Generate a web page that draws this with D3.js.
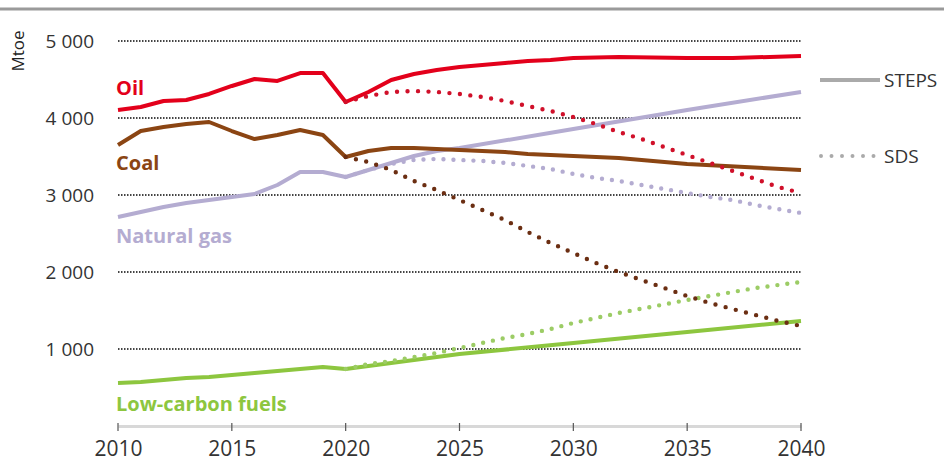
<!DOCTYPE html>
<html>
<head>
<meta charset="utf-8">
<script src="https://cdn.jsdelivr.net/npm/d3@7"></script>
<style>
  html, body { margin: 0; padding: 0; background: #fff; }
  svg { display: block; font-family: "Open Sans", "DejaVu Sans", sans-serif; }
</style>
</head>
<body>
<svg id="chart" width="944" height="461"></svg>
<script>
// ---- Data (Mtoe) ----
const yTicks = [1000, 2000, 3000, 4000, 5000];
const xTicks = [2010, 2015, 2020, 2025, 2030, 2035, 2040];

const oilSteps = [[2010,4104],[2011,4143],[2012,4221],[2013,4234],[2014,4312],[2015,4416],[2016,4506],[2017,4481],[2018,4584],[2019,4584],[2020,4208],[2021,4338],[2022,4494],[2023,4571],[2024,4623],[2025,4662],[2026,4688],[2027,4714],[2028,4740],[2029,4753],[2030,4779],[2032,4792],[2035,4779],[2037,4779],[2040,4805]];
const oilSds = [[2020,4208],[2021,4286],[2022,4338],[2023,4351],[2024,4338],[2025,4312],[2026,4273],[2027,4221],[2028,4156],[2029,4091],[2030,4013],[2031,3922],[2032,3818],[2033,3727],[2034,3623],[2035,3519],[2036,3416],[2037,3312],[2038,3208],[2039,3104],[2040,3026]];

const coalSteps = [[2010,3649],[2011,3831],[2012,3883],[2013,3922],[2014,3948],[2015,3831],[2016,3727],[2017,3779],[2018,3844],[2019,3779],[2020,3494],[2021,3571],[2022,3610],[2023,3610],[2024,3597],[2025,3584],[2026,3571],[2027,3558],[2028,3532],[2029,3519],[2030,3506],[2032,3481],[2035,3403],[2040,3325]];
const coalSds = [[2020,3494],[2021,3429],[2022,3325],[2023,3182],[2024,3065],[2025,2935],[2026,2805],[2027,2675],[2028,2519],[2029,2377],[2030,2247],[2031,2117],[2032,2000],[2033,1896],[2034,1792],[2035,1688],[2036,1597],[2037,1519],[2038,1442],[2039,1364],[2040,1299]];

const gasSteps = [[2010,2714],[2011,2779],[2012,2844],[2013,2896],[2014,2935],[2015,2974],[2016,3013],[2017,3130],[2018,3299],[2019,3299],[2020,3234],[2021,3325],[2022,3416],[2023,3506],[2024,3571],[2025,3610],[2030,3857],[2035,4104],[2040,4338]];
const gasSds = [[2020,3234],[2021,3325],[2022,3403],[2023,3455],[2024,3468],[2025,3455],[2026,3442],[2027,3416],[2028,3377],[2029,3338],[2030,3273],[2031,3221],[2032,3182],[2033,3130],[2034,3078],[2035,3026],[2036,2974],[2037,2935],[2038,2870],[2039,2818],[2040,2766]];

const lowSteps = [[2010,558],[2011,571],[2012,597],[2013,623],[2014,636],[2015,662],[2016,688],[2017,714],[2018,740],[2019,766],[2020,740],[2021,779],[2022,818],[2023,857],[2024,896],[2025,935],[2030,1078],[2035,1221],[2040,1364]];
const lowSds = [[2020,740],[2021,805],[2022,844],[2023,896],[2024,948],[2025,1013],[2026,1078],[2027,1143],[2028,1195],[2029,1260],[2030,1338],[2032,1468],[2035,1636],[2038,1792],[2040,1870]];

const seriesNames = ["Oil", "Coal", "Natural gas", "Low-carbon fuels"];
const legendNames = ["STEPS", "SDS"];

// ---- Layout ----
const svg = d3.select("#chart");
const x = d3.scaleLinear().domain([2010, 2040]).range([118, 801]);
const y = d3.scaleLinear().domain([0, 5000]).range([426, 41]);

// top border
svg.append("line").attr("x1", 0).attr("x2", 944).attr("y1", 9).attr("y2", 9)
  .attr("stroke", "#9a9a9a").attr("stroke-width", 3);

// gridlines
svg.append("g").selectAll("line").data(yTicks).join("line")
  .attr("x1", x(2010)).attr("x2", x(2040))
  .attr("y1", d => y(d)).attr("y2", d => y(d))
  .attr("stroke", "#444").attr("stroke-width", 1.8).attr("stroke-dasharray", "1.5,1.5");

// y tick labels
svg.append("g").selectAll("text").data(yTicks).join("text")
  .attr("x", 94).attr("y", d => y(d)).attr("dy", "0.36em")
  .attr("text-anchor", "end").attr("font-size", 19).attr("fill", "#333")
  .text(d => d3.format(",")(d).replace(",", " "));

// y axis title
svg.append("text").attr("transform", "translate(24,51) rotate(-90)")
  .attr("text-anchor", "middle").attr("font-size", 17).attr("fill", "#222").text("Mtoe");

// x axis
const xAxis = d3.axisBottom(x).tickValues(xTicks).tickFormat(d3.format("d")).tickSize(0).tickPadding(15);
const gx = svg.append("g").attr("transform", `translate(0,${y(0)})`).call(xAxis);
gx.select(".domain").attr("stroke", "#d8d8d8").attr("stroke-width", 3);
gx.selectAll("text").attr("font-size", 21).attr("fill", "#333").attr("font-family", "Open Sans, sans-serif");
svg.append("g").selectAll("line").data(xTicks).join("line")
  .attr("x1", d => x(d)).attr("x2", d => x(d))
  .attr("y1", y(0) - 3).attr("y2", y(0) + 5)
  .attr("stroke", "#555").attr("stroke-width", 1.2);

// lines
const line = d3.line().x(d => x(d[0])).y(d => y(d[1]));
const lines = [
  {data: gasSteps, color: "#b4acd1", dash: null},
  {data: lowSteps, color: "#8dc63f", dash: null},
  {data: coalSteps, color: "#8b4513", dash: null},
  {data: oilSteps, color: "#e3001b", dash: null},
  {data: gasSds, color: "#b4acd1", dash: "0,10"},
  {data: lowSds, color: "#9ccc65", dash: "0,10"},
  {data: coalSds, color: "#6b2e12", dash: "0,10.5"},
  {data: oilSds, color: "#d0102a", dash: "0,10.5"}
];
svg.append("g").selectAll("path").data(lines).join("path")
  .attr("d", d => line(d.data))
  .attr("fill", "none")
  .attr("stroke", d => d.color)
  .attr("stroke-width", d => d.dash ? 4.4 : 4)
  .attr("stroke-linecap", d => d.dash ? "round" : "butt")
  .attr("stroke-linejoin", "round")
  .attr("stroke-dasharray", d => d.dash);

// series labels
const labelPos = [
  {name: seriesNames[0], y: 95, color: "#e3001b"},
  {name: seriesNames[1], y: 170, color: "#8b4513"},
  {name: seriesNames[2], y: 243, color: "#b4acd1"},
  {name: seriesNames[3], y: 411, color: "#8dc63f"}
];
svg.append("g").selectAll("text").data(labelPos).join("text")
  .attr("x", 116).attr("y", d => d.y)
  .attr("font-size", 20).attr("font-weight", "bold").attr("fill", d => d.color)
  .text(d => d.name);

// legend
svg.append("line").attr("x1", 820).attr("x2", 880).attr("y1", 80).attr("y2", 80)
  .attr("stroke", "#aaa").attr("stroke-width", 4);
svg.append("line").attr("x1", 821).attr("x2", 878).attr("y1", 156).attr("y2", 156)
  .attr("stroke", "#aaa").attr("stroke-width", 4).attr("stroke-linecap", "round").attr("stroke-dasharray", "0,10.5");
svg.append("g").selectAll("text").data(legendNames).join("text")
  .attr("x", 884).attr("y", (d, i) => i === 0 ? 80 : 156).attr("dy", "0.36em")
  .attr("font-size", 19).attr("fill", "#333").text(d => d);
</script>
</body>
</html>
